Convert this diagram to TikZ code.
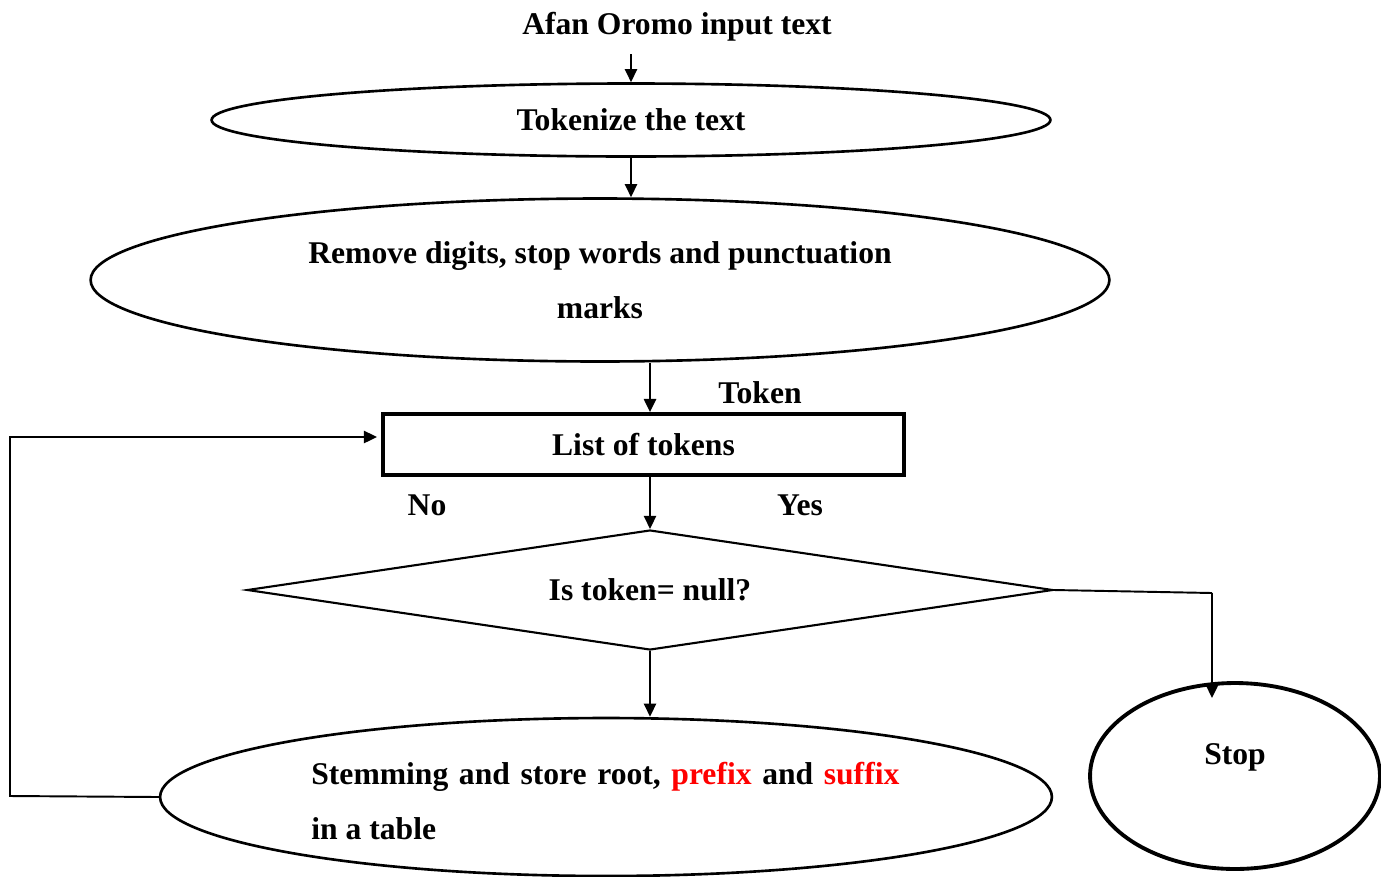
\documentclass[tikz,border=0pt]{standalone}
\usepackage{fontspec}
\setmainfont{Liberation Serif}
\usetikzlibrary{shapes.geometric,arrows.meta}
\begin{document}
\begin{tikzpicture}[x=0.02cm,y=-0.02cm,
  every node/.style={font=\bfseries\fontsize{18}{31}\selectfont},
  arr/.style={line width=1.1pt,-{Triangle[length=7.5pt,width=7pt]}},
  link/.style={line width=1.1pt},
  oval/.style={ellipse,draw,line width=1.5pt,inner sep=0pt},
  thickoval/.style={ellipse,draw,line width=2.2pt,inner sep=0pt},
  listbox/.style={rectangle,draw,line width=2.2pt,inner sep=0pt},
  decision/.style={diamond,draw,line width=1.2pt,inner sep=0pt,aspect=6.72},
  lbl/.style={inner sep=0pt},
  widelbl/.style={inner sep=0pt,execute at begin node={\spaceskip=0.335em\relax}}]
\useasboundingbox (0,0) rectangle (1381,876);

% process chain
\node[lbl] (title) at (677,27) {Afan Oromo input text};
\node[oval,minimum width=16.78cm,minimum height=1.46cm] (tok) at (631,120) {Tokenize the text};
\node[oval,minimum width=20.38cm,minimum height=3.26cm,align=center] (rem) at (600,280)
  {Remove digits, stop words and punctuation\\marks};
\node[listbox,minimum width=10.42cm,minimum height=1.22cm] (list) at (643.5,444.5) {List of tokens};
\node[decision,minimum width=16.12cm,minimum height=2.4cm] (null) at (650,590) {Is token= null?};
\node[oval,minimum width=17.84cm,minimum height=3.16cm] (stem) at (606,797) {};
\node[widelbl,anchor=west,align=left] (stemtxt) at (311,801)
  {Stemming and store root, \textcolor{red}{prefix} and \textcolor{red}{suffix}\\\spaceskip=0pt\relax in a table};
\node[thickoval,minimum width=5.8cm,minimum height=3.72cm] (stop) at (1235,776) {};
\node[lbl] (stoptxt) at (1235,757) {Stop};

% edge labels
\node[lbl] (tokenlbl) at (760,393) {Token};
\node[lbl] (nolbl) at (427,505) {No};
\node[lbl] (yeslbl) at (800,505) {Yes};

% bend points
\coordinate (yesbend) at (1212,593);
\coordinate (stopin) at (1212,698);
\coordinate (loopbot) at (10,796);
\coordinate (looptop) at (10,437);
\coordinate (loopin) at (377,437);

% connectors
\draw[arr] ([yshift=-7pt]title.south -| tok.north) -- (tok.north);
\draw[arr] (tok.south) -- (tok.south |- rem.north);
\draw[arr] (null.north |- rem.south) -- (null.north |- list.north);
\draw[arr] (null.north |- list.south) -- (null.north);
\draw[arr] (null.south) -- (null.south |- stem.north);
\draw[link] (null.east) -- (yesbend);
\draw[arr] (yesbend) -- (stopin);
\draw[arr] (stem.west) -- (loopbot) -- (looptop) -- (loopin);
\end{tikzpicture}
\end{document}
